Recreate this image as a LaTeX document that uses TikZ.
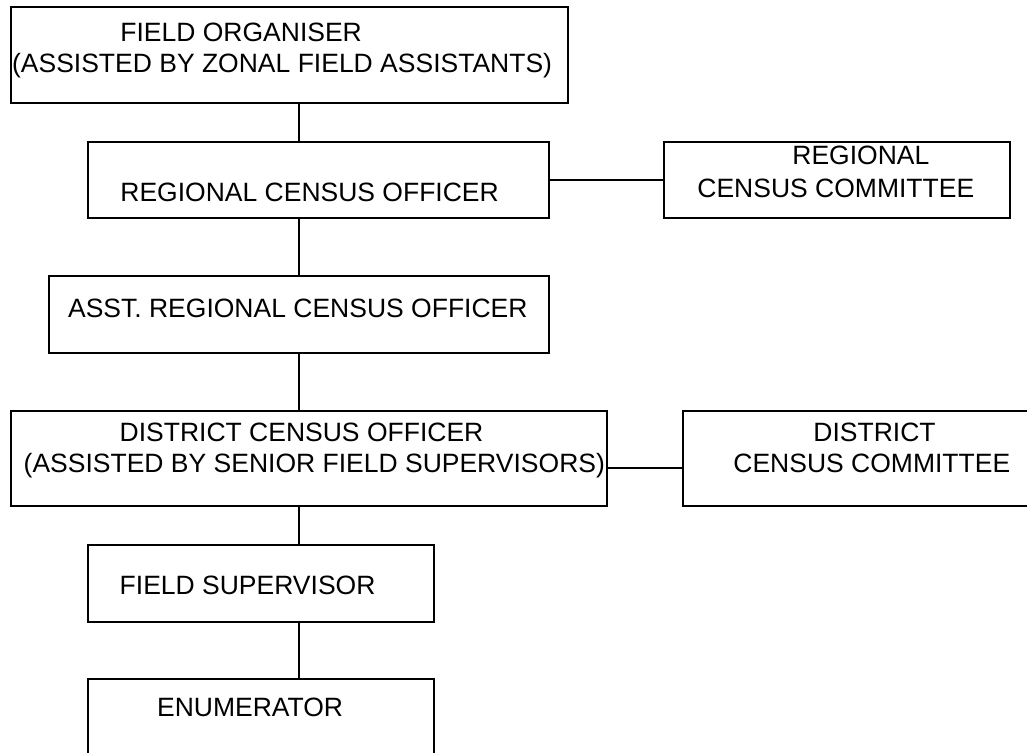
\documentclass[tikz,border=0pt]{standalone}
\usepackage{fontspec}
\setmainfont{Liberation Sans}
\usetikzlibrary{fit}
\tikzset{
  box/.style={draw, inner sep=0pt, line width=0.9pt},
  txt/.style={anchor=base west, inner sep=0pt},
  link/.style={draw, line width=0.9pt}
}
\tikzstyle{every node}=[font=\fontsize{13.25}{15}\selectfont]

\begin{document}
\begin{tikzpicture}[x=0.5pt, y=-0.5pt]
    \useasboundingbox (0,0) rectangle (1027,753);
    \coordinate (spine) at (299,0);
    \node[box, fit={(10.7,7) (568.3,103)}] (FO) {};
    \node[box, fit={(87.7,141.7) (549,218.3)}] (RCO) {};
    \node[box, fit={(664,141.7) (1010,218.3)}] (RCC) {};
    \node[box, fit={(49,276) (549,352.7)}] (ARCO) {};
    \node[box, fit={(10.7,410.7) (606.7,506)}] (DCO) {};
    \node[box, fit={(683,410.7) (1032,506)}] (DCC) {};
    \node[box, fit={(87.7,545) (434,621.7)}] (FS) {};
    \node[box, fit={(87.7,679.3) (434,762)}] (EN) {};
    \node[txt] (FO1) at (120,42) {FIELD ORGANISER};
    \node[txt] (FO2) at (11.7,72.5) {(ASSISTED BY ZONAL FIELD ASSISTANTS)};
    \node[txt] (RCO1) at (120,201.7) {REGIONAL CENSUS OFFICER};
    \node[txt] (RCC1) at (792,165) {REGIONAL};
    \node[txt] (RCC2) at (697,198) {CENSUS COMMITTEE};
    \node[txt] (ARCO1) at (67.7,318) {ASST. REGIONAL CENSUS OFFICER};
    \node[txt] (DCO1) at (119.3,441.5) {DISTRICT CENSUS OFFICER};
    \node[txt] (DCO2) at (23.3,472.5) {(ASSISTED BY SENIOR FIELD SUPERVISORS)};
    \node[txt] (DCC1) at (813,441.5) {DISTRICT};
    \node[txt] (DCC2) at (733,472.5) {CENSUS COMMITTEE};
    \node[txt] (FS1) at (119.3,594) {FIELD SUPERVISOR};
    \node[txt] (EN1) at (156.7,716.7) {ENUMERATOR};
    \draw[link] (FO.south -| spine) -- (RCO.north -| spine);
    \draw[link] (RCO.east) -- (RCC.west);
    \draw[link] (RCO.south -| spine) -- (ARCO.north -| spine);
    \draw[link] (ARCO.south -| spine) -- (DCO.north -| spine);
    \draw[link] ([yshift=-5pt]DCO.east) -- ([yshift=-5pt]DCC.west);
    \draw[link] (DCO.south -| spine) -- (FS.north -| spine);
    \draw[link] (FS.south -| spine) -- (EN.north -| spine);
\end{tikzpicture}
\end{document}
